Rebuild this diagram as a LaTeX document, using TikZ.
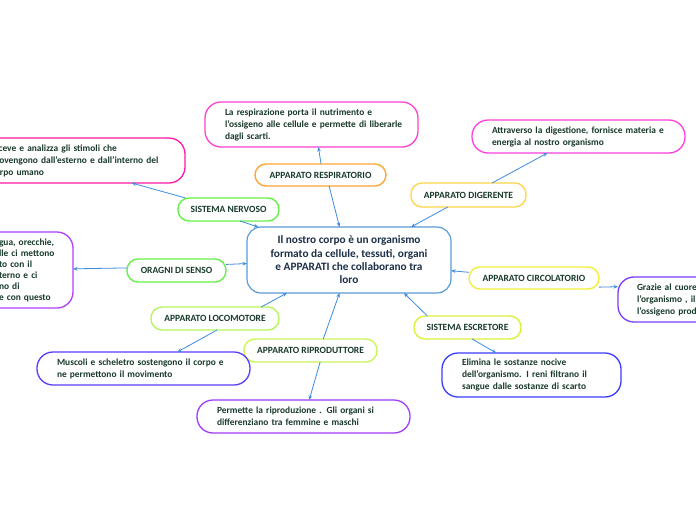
\documentclass[tikz,border=0pt]{standalone}
\usepackage{fontspec}
\setmainfont{Carlito}
\usetikzlibrary{arrows.meta}
\definecolor{txt}{HTML}{183A2A}
\definecolor{ctxt}{HTML}{1C2F48}
\definecolor{cblue}{HTML}{5B9BD5}
\definecolor{conn}{HTML}{3C8CE0}
\definecolor{cgreen}{HTML}{66F04A}
\definecolor{corange}{HTML}{FFA533}
\definecolor{cgold}{HTML}{FFD54A}
\definecolor{cyellow}{HTML}{F0F03A}
\definecolor{cloco}{HTML}{B8F55A}
\definecolor{cripr}{HTML}{CCF55A}
\definecolor{cescr}{HTML}{DCF040}
\definecolor{dmagA}{HTML}{FF1AA3}
\definecolor{dmagB}{HTML}{FF3FD0}
\definecolor{dmagC}{HTML}{FF3FE0}
\definecolor{dpurA}{HTML}{B03FFF}
\definecolor{dpurB}{HTML}{7B3BFF}
\definecolor{dpurC}{HTML}{5B3BFF}
\definecolor{dpurD}{HTML}{A03BFF}
\definecolor{dblue}{HTML}{3B3BFF}
\tikzset{
  lbl/.style={draw, rounded corners=11pt, line width=1.4pt, inner sep=0pt, outer sep=0pt,
    font=\fontsize{9.5}{11}\selectfont\bfseries, text=txt},
  det/.style={draw, rounded corners=16pt, line width=1.3pt, inner sep=0pt, outer sep=0pt,
    align=left, font=\fontsize{9.4}{12}\selectfont\bfseries, text=txt},
  conn/.style={draw=conn, line width=0.8pt, -{Stealth[length=4.5pt,width=3.6pt]}}
}
\begin{document}
\begin{tikzpicture}[x=1pt,y=-1pt]
\useasboundingbox (0,0) rectangle (696,520);
\fill[white] (0,0) rectangle (696,520);
\clip (0,0) rectangle (696,520);

% central node
\node[draw=cblue, line width=1.2pt, rounded corners=14pt, inner sep=0pt, outer sep=0pt,
  minimum width=204pt, minimum height=66pt, align=center, text=ctxt,
  font=\fontsize{11.3}{13.3}\selectfont\bfseries] (C) at (349,260)
  {Il nostro corpo è un organismo\\formato da cellule, tessuti, organi\\e APPARATI che collaborano tra\\loro};

% labels
\node[lbl, draw=cgreen, minimum width=101pt, minimum height=23pt] (nerv) at (228.5,209.5) {SISTEMA NERVOSO};
\node[lbl, draw=corange, minimum width=131pt, minimum height=22pt] (resp) at (320.5,175) {APPARATO RESPIRATORIO};
\node[lbl, draw=cgold, minimum width=115pt, minimum height=24pt] (dig) at (468.5,195) {APPARATO DIGERENTE};
\node[lbl, draw=cgreen, minimum width=99pt, minimum height=23pt] (senso) at (176.5,270.5) {ORAGNI DI SENSO};
\node[lbl, draw=cyellow, minimum width=130pt, minimum height=22pt] (circ) at (534,278) {APPARATO CIRCOLATORIO};
\node[lbl, draw=cloco, minimum width=128pt, minimum height=23pt] (loco) at (215,318.5) {APPARATO LOCOMOTORE};
\node[lbl, draw=cripr, minimum width=133pt, minimum height=23pt] (ripr) at (310.5,350.5) {APPARATO RIPRODUTTORE};
\node[lbl, draw=cescr, minimum width=107pt, minimum height=23pt] (escr) at (467.5,327.5) {SISTEMA ESCRETORE};

% detail boxes
\node[det, draw=dmagA, minimum width=245pt, minimum height=45pt, text width=143pt] (dnerv) at (62.5,160.5)
  {\mbox{Riceve e analizza gli stimoli che}\\\mbox{provengono dall'esterno e dall'interno del}\\\mbox{corpo umano}};
\node[det, draw=dmagB, minimum width=213pt, minimum height=45pt, text width=173pt] (dresp) at (311.5,124.5)
  {\mbox{La respirazione porta il nutrimento e}\\\mbox{l'ossigeno alle cellule e permette di liberarle}\\\mbox{dagli scarti.}};
\node[det, draw=dmagC, minimum width=213pt, minimum height=33pt, text width=173pt] (ddig) at (578.5,136.5)
  {\mbox{Attraverso la digestione, fornisce materia e}\\\mbox{energia al nostro organismo}};
\node[det, draw=dpurA, minimum width=133pt, minimum height=76pt, text width=15pt,
  font=\fontsize{9.4}{11}\selectfont\bfseries] (dsenso) at (6.5,270)
  {\mbox{gua, orecchie,}\\\mbox{lle ci mettono}\\\mbox{to con il}\\\mbox{terno e ci}\\\mbox{no di}\\\mbox{e con questo}};
\node[det, draw=dpurB, minimum width=182pt, minimum height=45pt, text width=144pt] (dcirc) at (709,299.5)
  {\mbox{Grazie al cuore}\\\mbox{l'organismo , il}\\\mbox{l'ossigeno prod}};
\node[det, draw=dpurC, minimum width=213pt, minimum height=33pt, text width=173pt] (dloco) at (143.5,368.5)
  {\mbox{Muscoli e scheletro sostengono il corpo e}\\\mbox{ne permettono il movimento}};
\node[det, draw=dpurD, minimum width=213pt, minimum height=33pt, text width=173pt] (dripr) at (303.5,416.5)
  {\mbox{Permette la riproduzione . Gli organi si}\\\mbox{differenziano tra femmine e maschi}};
\node[det, draw=dblue, minimum width=179pt, minimum height=44pt, text width=139pt] (descr) at (531.5,375)
  {\mbox{Elimina le sostanze nocive}\\\mbox{dell'organismo. I reni filtrano il}\\\mbox{sangue dalle sostanze di scarto}};

% connectors
\draw[conn] (nerv.-45) -- (C.160.1);
\draw[conn] (nerv.165.2) -- (dnerv.-18.4);
\draw[conn] (resp.87.4) -- (dresp.-73.9);
\draw[conn] (resp.-52.3) -- (C.106.9);
\draw[conn] (dig.27) -- (ddig.-152.4);
\draw[conn] (dig.-150.8) -- (C.28.4);
\draw[conn] (senso.7.5) -- (C.-178.3);
\draw[conn] (senso.177.1) -- (dsenso.1.7);
\draw[conn] (circ.175.5) -- (C.-6.2);
\draw[conn] (circ.-8.1) -- (dcirc.172.8);
\draw[conn] (loco.14.3) -- (C.-152.7);
\draw[conn] (loco.-80) -- (dloco.26.2);
\draw[conn] (ripr.42.6) -- (C.-106.9);
\draw[conn] (ripr.-50.4) -- (dripr.71.6);
\draw[conn] (escr.164.1) -- (C.-31.9);
\draw[conn] (escr.-68.6) -- (descr.148.9);
\end{tikzpicture}
\end{document}
